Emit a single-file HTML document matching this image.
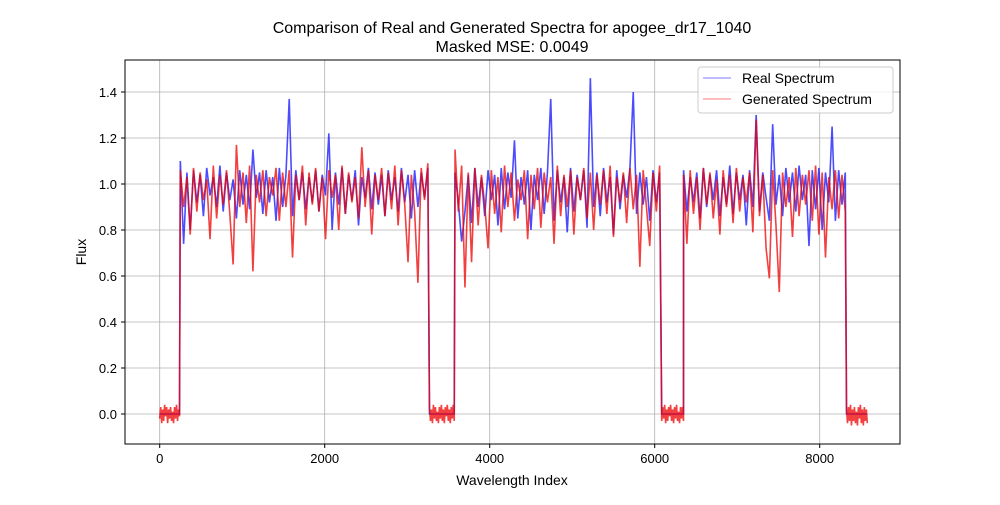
<!DOCTYPE html>
<html><head><meta charset="utf-8">
<style>
body{margin:0;background:#fff;}
svg text{font-family:"Liberation Sans","DejaVu Sans",sans-serif;fill:#000;}
</style></head>
<body>
<svg id="chart" width="1000" height="500" viewBox="0 0 1000 500" xmlns="http://www.w3.org/2000/svg">
<rect x="0" y="0" width="1000" height="500" fill="#fff"/>
<text x="512" y="33" font-size="16" text-anchor="middle">Comparison of Real and Generated Spectra for apogee_dr17_1040</text>
<text x="512" y="52" font-size="16" text-anchor="middle">Masked MSE: 0.0049</text>
<g id="grid"></g>
<g id="series"></g>
<rect x="125" y="60" width="775" height="384" fill="none" stroke="#000" stroke-width="1"/>
<g id="ticks"></g>
<text x="512" y="485" font-size="14" text-anchor="middle">Wavelength Index</text>
<text x="86" y="252" font-size="14" text-anchor="middle" transform="rotate(-90 86 252)">Flux</text>
<g>
<rect x="698" y="67" width="195" height="46" rx="3" fill="#fff" fill-opacity="0.8" stroke="#ccc"/>
<line x1="703" y1="78" x2="731" y2="78" stroke="#00f" stroke-opacity="0.7" stroke-width="0.8"/>
<text x="742" y="83" font-size="14">Real Spectrum</text>
<line x1="703" y1="99" x2="731" y2="99" stroke="#f00" stroke-opacity="0.7" stroke-width="0.8"/>
<text x="742" y="104" font-size="14">Generated Spectrum</text>
</g>
</svg>
<script>
// segment definitions: start index, step, values
const seg1Start = 250, seg2Start = 3580, seg3Start = 6350, dataStep = 40;
const realSeg1 = [1.10,0.74,1.05,0.80,1.06,0.92,1.04,0.86,1.07,0.95,1.03,0.90,1.08,0.88,1.05,0.93,1.02,0.85,1.06,0.91,1.04,0.89,1.15,0.94,1.05,0.87,1.06,0.92,1.03,0.84,1.07,0.90,1.04,1.37,0.86,1.06,0.93,1.05,0.89,1.03,0.92,1.06,0.88,1.04,0.95,1.22,0.80,1.05,0.91,1.07,0.87,1.04,0.93,1.06,0.82,1.03,0.94,1.07,0.89,1.05,0.91,1.04,0.86,1.06,0.93,1.03,0.88,1.07,0.92,1.04,0.85,1.06,0.90,1.05,0.94,1.07];
const genSeg1 = [1.06,0.90,1.03,0.78,1.07,0.88,1.05,0.93,1.02,0.76,1.08,0.85,1.04,0.91,1.06,0.87,0.65,1.17,0.90,1.05,0.83,1.08,0.62,1.04,0.92,1.06,0.86,1.03,0.95,1.07,0.84,1.05,0.90,1.06,0.68,1.04,0.93,1.08,0.82,1.05,0.91,1.07,0.88,1.03,0.76,1.06,0.94,1.04,0.80,1.08,0.87,1.05,0.92,1.03,0.85,1.16,0.90,1.06,0.78,1.04,0.93,1.07,0.86,1.05,0.89,1.08,0.82,1.06,0.91,0.66,1.04,0.88,0.57,1.07,0.93,1.09];
const realSeg2 = [1.05,0.92,0.75,0.88,1.04,0.83,1.07,0.90,1.03,0.86,1.06,0.93,1.04,0.82,1.07,0.89,1.05,0.94,1.19,0.85,1.03,0.91,1.06,0.80,1.04,0.93,1.07,0.87,1.05,1.37,0.84,1.06,0.92,1.03,0.79,1.07,0.88,1.04,0.93,1.06,0.81,1.46,0.90,1.05,0.86,1.07,0.92,1.03,0.78,1.06,0.89,1.04,0.94,1.07,1.40,0.87,1.05,0.91,1.03,0.84,1.06,0.92,1.05];
const genSeg2 = [1.15,0.88,1.08,0.55,1.05,0.66,1.07,0.82,1.04,0.91,0.72,1.06,0.87,1.03,0.79,1.08,0.90,1.05,0.84,1.02,0.93,1.06,0.76,1.04,0.89,1.07,0.81,1.05,0.92,1.03,0.74,1.08,0.86,1.04,0.90,1.06,0.78,1.03,0.93,1.07,0.85,1.05,0.80,1.04,0.91,1.06,0.87,1.08,0.77,1.03,0.92,1.05,0.83,1.07,0.89,1.04,0.64,1.06,0.90,0.73,1.05,0.88,1.08];
const realSeg3 = [1.06,0.88,1.03,0.92,1.05,0.85,1.07,0.90,1.04,0.93,1.06,0.86,1.03,0.91,1.08,0.87,1.05,0.93,1.04,0.82,1.06,0.90,1.30,0.88,1.05,0.94,0.84,1.26,0.91,1.04,0.86,1.07,0.92,1.05,0.88,1.08,0.93,1.04,0.73,1.06,0.89,1.07,0.80,1.05,0.92,1.25,0.84,1.06,0.91,1.05];
const genSeg3 = [1.04,0.74,1.06,0.87,1.03,0.80,1.07,0.91,1.05,0.85,1.02,0.78,1.06,0.90,1.04,0.83,1.07,0.88,1.03,0.92,1.05,0.79,1.28,0.86,1.04,0.72,0.59,1.06,0.82,0.53,1.05,0.90,1.03,0.77,1.07,0.86,1.04,0.91,1.06,0.84,1.08,0.78,1.05,0.68,1.03,0.89,1.06,0.85,1.04,0.88];
// masked (zero) regions: start index, step 12
const zeroStep = 12;
const zero1Start = 0, zero2Start = 3270, zero3Start = 6085, zero4Start = 8325;
const zeroNoise1 = [-0.02,0.03,-0.04,0.02,-0.03,0.04,-0.01,0.03,-0.04,0.02,-0.02,0.03,-0.03,0.01,-0.04,0.03,-0.02,0.04,-0.03,0.02,-0.01];
const zeroNoise2 = [0.03,-0.03,0.02,-0.04,0.04,-0.02,0.03,-0.03,0.01,-0.04,0.03,-0.02,0.04,-0.03,0.02,-0.04,0.03,-0.01,0.04,-0.03,0.02,-0.04,0.03,-0.02,0.04,-0.03];
const zeroNoise3 = [-0.03,0.03,-0.02,0.04,-0.04,0.02,-0.03,0.03,-0.01,0.04,-0.03,0.02,-0.04,0.03,-0.02,0.04,-0.03,0.01,-0.04,0.03,-0.02,0.03,-0.03];
const zeroNoise4 = [0.02,-0.04,0.03,-0.03,0.04,-0.05,0.02,-0.03,0.03,-0.04,0.01,-0.05,0.03,-0.02,0.04,-0.04,0.02,-0.05,0.03,-0.03,0.02,-0.04];
const xTicks = [0,2000,4000,6000,8000];
const yTicks = [0.0,0.2,0.4,0.6,0.8,1.0,1.2,1.4];

const X0 = 125, X1 = 900, Y0 = 60, Y1 = 444;
const xMin = -420.6, xMax = 8973.3, yMin = -0.1304, yMax = 1.5391;
function sx(v){ return X0 + (v - xMin) / (xMax - xMin) * (X1 - X0); }
function sy(v){ return Y1 - (v - yMin) / (yMax - yMin) * (Y1 - Y0); }
const NS = "http://www.w3.org/2000/svg";
const grid = document.getElementById('grid');
const ticks = document.getElementById('ticks');
const series = document.getElementById('series');
function mk(tag, attrs, parent){ const e = document.createElementNS(NS, tag); for (const k in attrs) e.setAttribute(k, attrs[k]); parent.appendChild(e); return e; }

xTicks.forEach(t => {
  const g = mk('line', {x1:sx(t), x2:sx(t), y1:Y0, y2:Y1, stroke:'#b0b0b0', 'stroke-width':0.8}, grid);
  
  
  mk('line', {x1:sx(t), x2:sx(t), y1:Y1, y2:Y1+4, stroke:'#000'}, ticks);
  const tx = mk('text', {x:sx(t), y:Y1+19, 'font-size':13, 'text-anchor':'middle'}, ticks);
  tx.textContent = String(t);
  
  
});
yTicks.forEach(t => {
  const g = mk('line', {x1:X0, x2:X1, y1:sy(t), y2:sy(t), stroke:'#b0b0b0', 'stroke-width':0.8}, grid);
  
  
  mk('line', {x1:X0-4, x2:X0, y1:sy(t), y2:sy(t), stroke:'#000'}, ticks);
  const tx = mk('text', {x:X0-8, y:sy(t)+5, 'font-size':13, 'text-anchor':'end'}, ticks);
  tx.textContent = t.toFixed(1);
  
  
});

function build(parts){
  const pts = [];
  parts.forEach(([start, step, vals]) => vals.forEach((v, i) => pts.push([start + i*step, v])));
  return pts;
}
const zeros = a => a.map(() => 0);
const realPts = build([[zero1Start,zeroStep,zeros(zeroNoise1)],[seg1Start,dataStep,realSeg1],[zero2Start,zeroStep,zeros(zeroNoise2)],[seg2Start,dataStep,realSeg2],[zero3Start,zeroStep,zeros(zeroNoise3)],[seg3Start,dataStep,realSeg3],[zero4Start,zeroStep,zeros(zeroNoise4)]]);
const genPts = build([[zero1Start,zeroStep,zeroNoise1],[seg1Start,dataStep,genSeg1],[zero2Start,zeroStep,zeroNoise2],[seg2Start,dataStep,genSeg2],[zero3Start,zeroStep,zeroNoise3],[seg3Start,dataStep,genSeg3],[zero4Start,zeroStep,zeroNoise4]]);
function path(pts){ return pts.map((p,i) => (i?'L':'M') + sx(p[0]).toFixed(2) + ' ' + sy(p[1]).toFixed(2)).join(''); }
const rl = mk('path', {d:path(realPts), fill:'none', stroke:'#00f', 'stroke-opacity':0.7, 'stroke-width':1.6, 'stroke-linejoin':'miter', 'stroke-miterlimit':2}, series);


const gl = mk('path', {d:path(genPts), fill:'none', stroke:'#e00', 'stroke-opacity':0.75, 'stroke-width':1.6, 'stroke-linejoin':'miter', 'stroke-miterlimit':2}, series);


</script>
</body></html>
